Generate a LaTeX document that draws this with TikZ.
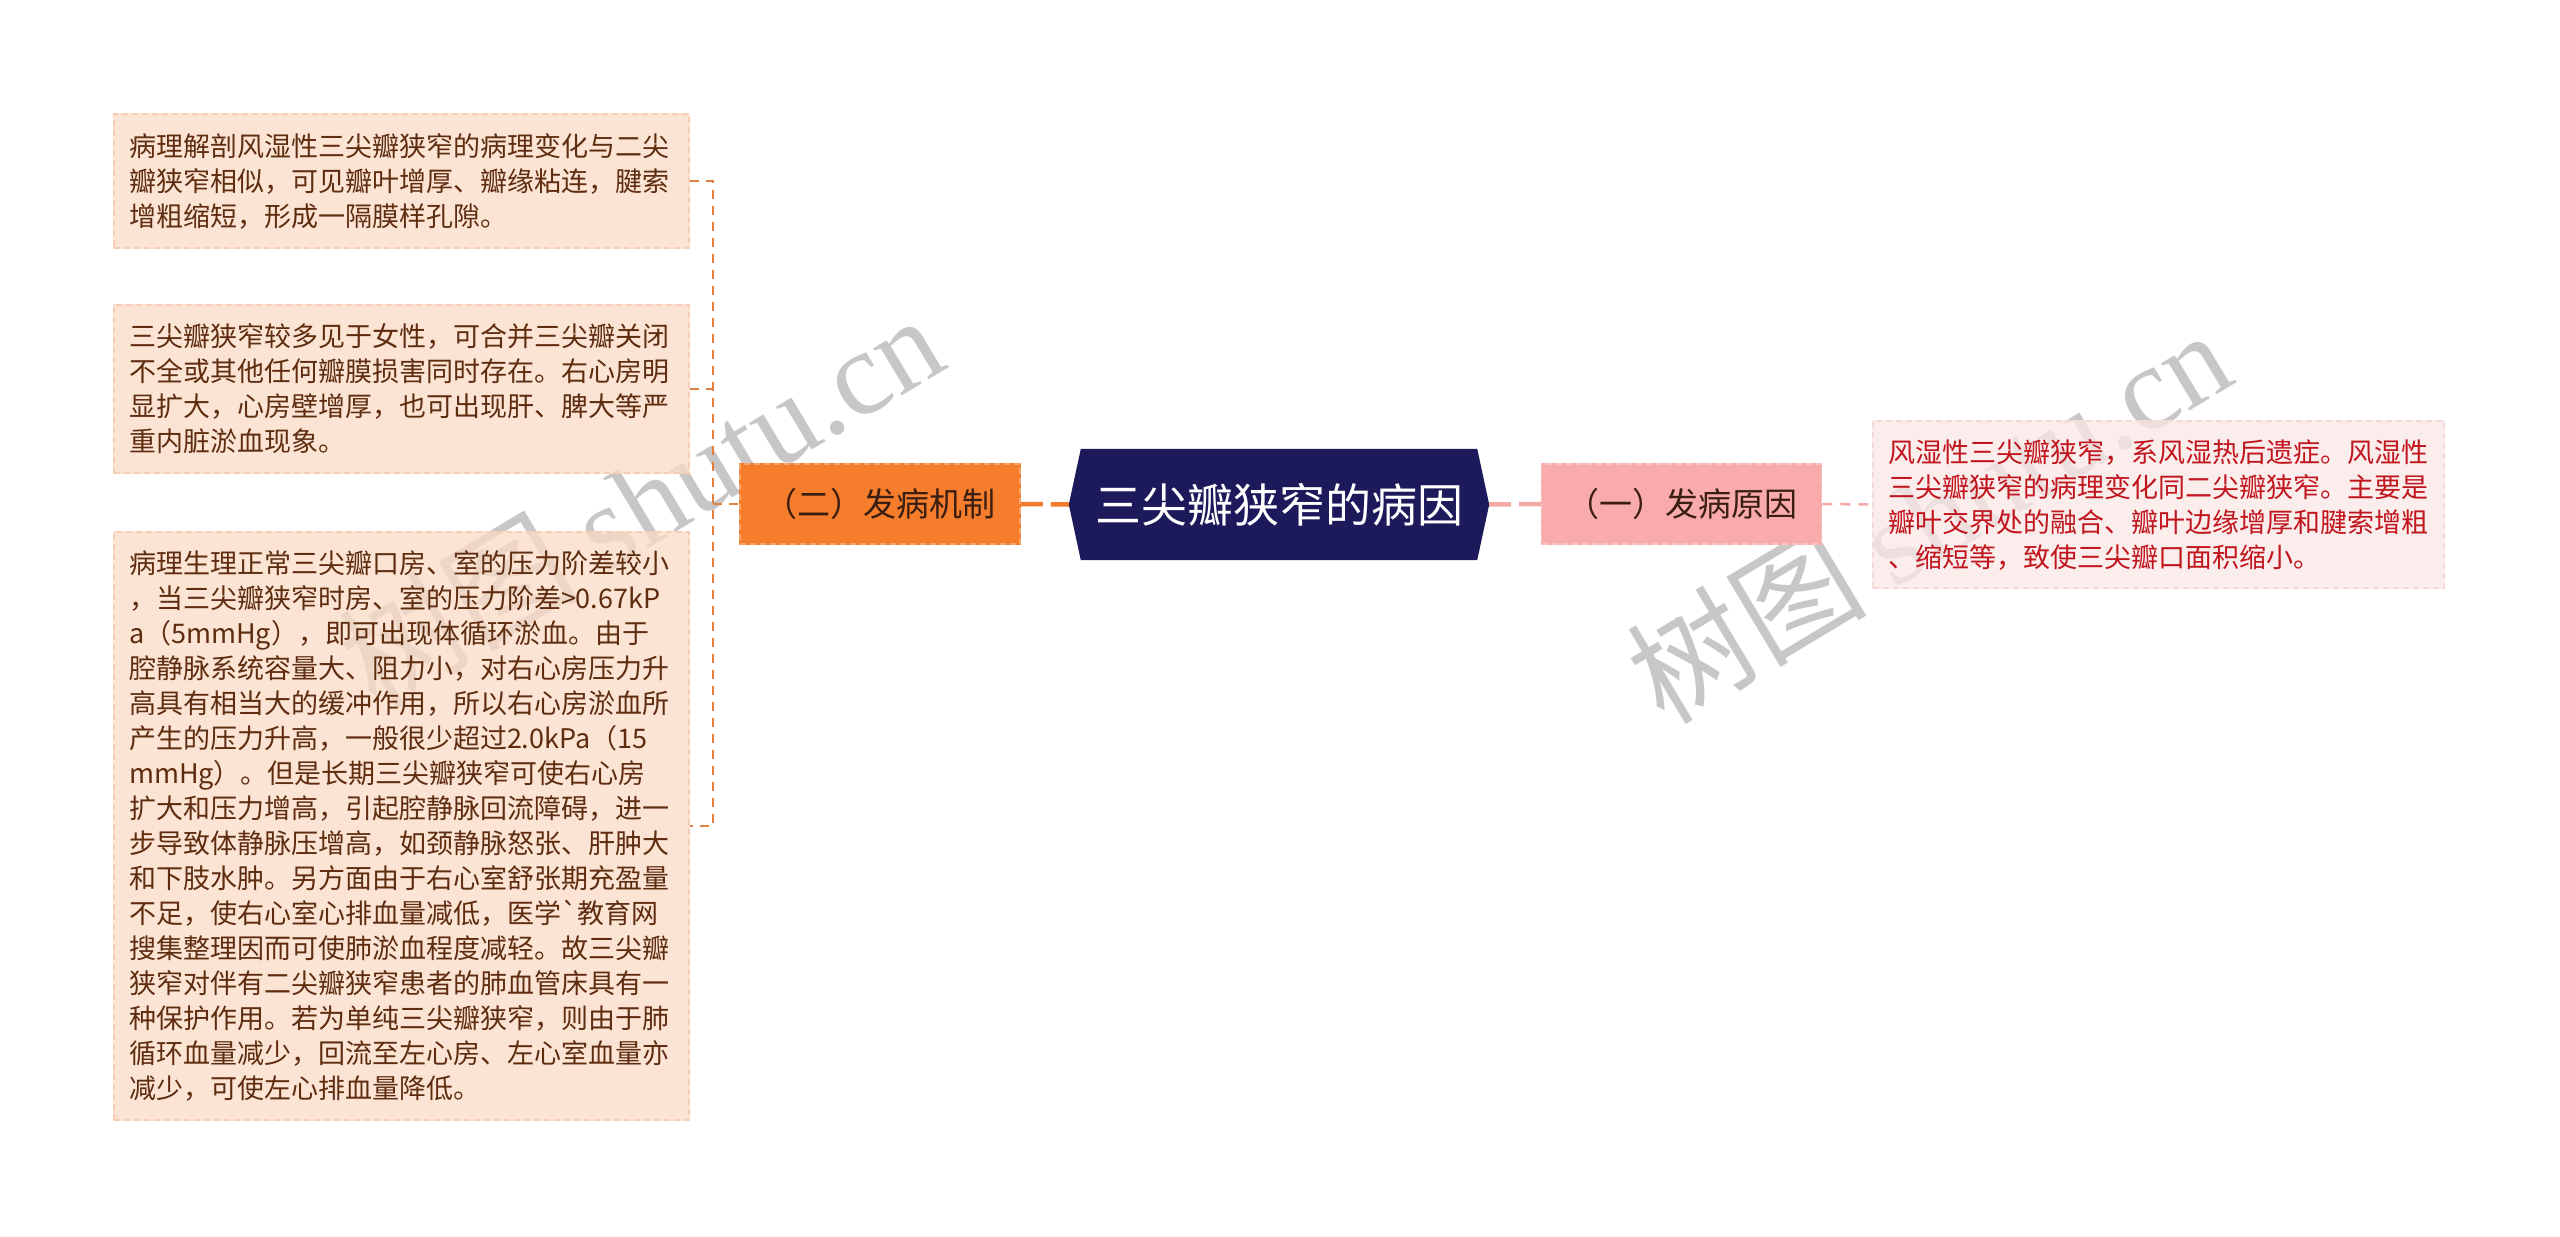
\documentclass[tikz,border=0pt]{standalone}
\usepackage{fontspec}
\setmainfont{Noto Sans CJK SC}[Ligatures=TeXOff]
\newfontfamily\wmlatin{Liberation Serif}
\usetikzlibrary{backgrounds}
\definecolor{leaffill}{HTML}{FCDCC8}
\definecolor{leafedge}{HTML}{F8CDB4}
\definecolor{leaftext}{HTML}{5E2C0E}
\definecolor{orangefill}{HTML}{F57D2C}
\definecolor{orangeedge}{HTML}{F9A466}
\definecolor{orangeline}{HTML}{F07A2E}
\definecolor{trunkline}{HTML}{E0823F}
\definecolor{navy}{HTML}{1C1A5A}
\definecolor{pinkfill}{HTML}{F9AAAA}
\definecolor{pinkedge}{HTML}{F6C4C4}
\definecolor{pinkline}{HTML}{F4A9A9}
\definecolor{redtext}{HTML}{C0151D}
\definecolor{rightfill}{HTML}{FCE8E8}
\definecolor{rightedge}{HTML}{F7D8D8}
\definecolor{darktext}{HTML}{3B1E12}
\tikzset{
  leafbox/.style={draw=leafedge, dash pattern=on 6pt off 4pt, line width=1.5pt,
    text=leaftext, text width=545pt, inner xsep=15pt, inner ysep=0pt,
    align=left, font=\fontsize{27}{35}\selectfont, minimum width=575pt},
  rightbox/.style={draw=rightedge, dash pattern=on 6pt off 4pt, line width=1.5pt,
    text=redtext, text width=541pt, inner xsep=15pt, inner ysep=0pt,
    align=left, font=\fontsize{27}{35}\selectfont, minimum width=571pt, minimum height=167pt},
  midbox/.style={dash pattern=on 6pt off 4pt, line width=1.5pt, text=darktext,
    minimum width=280pt, minimum height=80pt, inner sep=0pt, font=\fontsize{33}{40}\selectfont},
  rootnode/.style={minimum width=420pt, minimum height=111pt, inner sep=0pt, text=white,
    font=\fontsize{46}{52}\selectfont},
  boxfill/.style={fill opacity=0.75},
  trunkconn/.style={draw=trunkline, line width=2.5pt, dash pattern=on 9pt off 7pt},
  thickconn/.style={line width=4.5pt, dash pattern=on 22pt off 8pt},
  thinpink/.style={draw=pinkline, line width=2.5pt, dash pattern=on 10pt off 8pt},
  wm/.style={text=black!55, text opacity=0.4, inner sep=0pt, font=\fontsize{120}{130}\selectfont}
}
\begin{document}
\begin{tikzpicture}[x=1pt,y=-1pt]
\useasboundingbox (0,0) rectangle (2560,1237);

\node[leafbox, minimum height=134pt] (a) at (401.5,181) {病理解剖风湿性三尖瓣狭窄的病理变化与二尖\\瓣狭窄相似，可见瓣叶增厚、瓣缘粘连，腱索\\增粗缩短，形成一隔膜样孔隙。};
\node[leafbox, minimum height=168pt] (b) at (401.5,389) {三尖瓣狭窄较多见于女性，可合并三尖瓣关闭\\不全或其他任何瓣膜损害同时存在。右心房明\\显扩大，心房壁增厚，也可出现肝、脾大等严\\重内脏淤血现象。};
\node[leafbox, minimum height=588pt] (c) at (401.5,826) {病理生理正常三尖瓣口房、室的压力阶差较小\\，当三尖瓣狭窄时房、室的压力阶差>0.67kP\\a（5mmHg），即可出现体循环淤血。由于\\腔静脉系统容量大、阻力小，对右心房压力升\\高具有相当大的缓冲作用，所以右心房淤血所\\产生的压力升高，一般很少超过2.0kPa（15\\mmHg）。但是长期三尖瓣狭窄可使右心房\\扩大和压力增高，引起腔静脉回流障碍，进一\\步导致体静脉压增高，如颈静脉怒张、肝肿大\\和下肢水肿。另方面由于右心室舒张期充盈量\\不足，使右心室心排血量减低，医学`教育网\\搜集整理因而可使肺淤血程度减轻。故三尖瓣\\狭窄对伴有二尖瓣狭窄患者的肺血管床具有一\\种保护作用。若为单纯三尖瓣狭窄，则由于肺\\循环血量减少，回流至左心房、左心室血量亦\\减少，可使左心排血量降低。};

\node[midbox, draw=orangeedge] (o) at (880,504) {（二）发病机制};
\node[rootnode] (root) at (1279,504.5) {三尖瓣狭窄的病因};
\node[midbox, draw=pinkedge] (p) at (1681.5,504) {（一）发病原因};
\node[rightbox] (r) at (2158.5,504.5) {风湿性三尖瓣狭窄，系风湿热后遗症。风湿性\\三尖瓣狭窄的病理变化同二尖瓣狭窄。主要是\\瓣叶交界处的融合、瓣叶边缘增厚和腱索增粗\\、缩短等，致使三尖瓣口面积缩小。};

\begin{scope}[on background layer]
  \fill[white] (0,0) rectangle (2560,1237);
  \node[wm, rotate=31] (wm1) at (640,500) {树图 {\wmlatin shutu.cn}};
  \node[wm, rotate=31] (wm2) at (1928,515) {树图 {\wmlatin shutu.cn}};
  \fill[leaffill, boxfill] (a.north west) rectangle (a.south east);
  \fill[leaffill, boxfill] (b.north west) rectangle (b.south east);
  \fill[leaffill, boxfill] (c.north west) rectangle (c.south east);
  \fill[rightfill, boxfill] (r.north west) rectangle (r.south east);
  \fill[orangefill] (o.north west) rectangle (o.south east);
  \fill[pinkfill] (p.north west) rectangle (p.south east);
  \fill[navy] (root.west) -- ([xshift=12pt]root.north west) -- ([xshift=-12pt]root.north east)
    -- (root.east) -- ([xshift=-12pt]root.south east) -- ([xshift=12pt]root.south west) -- cycle;
\end{scope}

\coordinate (trunk) at (713,504);
\draw[trunkconn] (a.east) -- (a.east -| trunk) -- (c.east -| trunk) -- (c.east);
\draw[trunkconn] (b.east) -- (b.east -| trunk);
\draw[trunkconn] (trunk) -- (o.west);
\draw[thickconn, draw=orangeline] (o.east) -- (root.west);
\draw[thickconn, draw=pinkline] (root.east) -- (p.west);
\draw[thinpink] (p.east) -- (r.west);
\end{tikzpicture}
\end{document}
